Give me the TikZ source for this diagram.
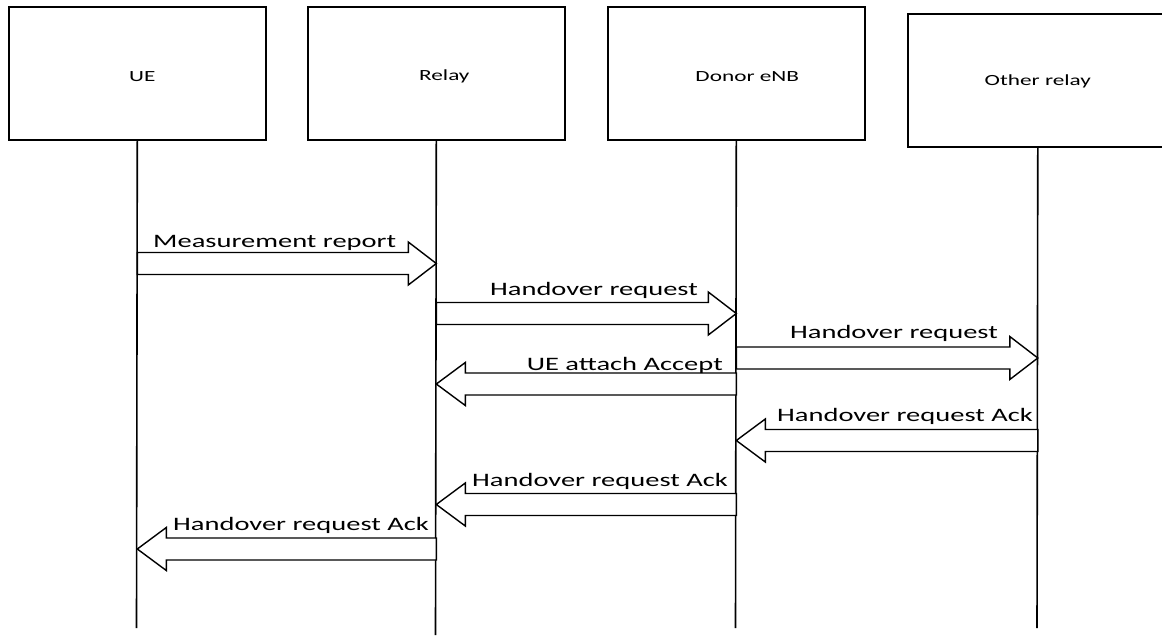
\documentclass[tikz,border=0pt]{standalone}
\usepackage{fontspec}
\setmainfont{Carlito}
\newfontfamily\widefont[FakeStretch=1.5]{Carlito}
\usetikzlibrary{calc}
\newcommand\msgR[3]{%
  \draw[msg] let \p1=(#1), \p2=(#2), \p3=(0,#3) in
    (\x1,\y3+11pt) -- (\x2-28pt,\y3+11pt) -- (\x2-28pt,\y3+21.5pt) -- (\x2,\y3)
    -- (\x2-28pt,\y3-21.5pt) -- (\x2-28pt,\y3-11pt) -- (\x1,\y3-11pt) -- cycle;}
\newcommand\msgL[3]{%
  \draw[msg] let \p1=(#1), \p2=(#2), \p3=(0,#3) in
    (\x1,\y3+11pt) -- (\x2+29pt,\y3+11pt) -- (\x2+29pt,\y3+21.5pt) -- (\x2,\y3)
    -- (\x2+29pt,\y3-21.5pt) -- (\x2+29pt,\y3-11pt) -- (\x1,\y3-11pt) -- cycle;}
\begin{document}
\begin{tikzpicture}[x=1pt,y=-1pt,
  box/.style={draw,line width=1.6pt,minimum width=257pt,minimum height=133pt,inner sep=0pt,anchor=north west},
  life/.style={line width=1.6pt},
  msg/.style={draw,line width=1.4pt,fill=white,line join=miter},
  lab/.style={font=\widefont\fontsize{19}{19}\selectfont,inner sep=0pt},
  boxlab/.style={font=\widefont\fontsize{15.5}{15.5}\selectfont,inner sep=0pt}]
\useasboundingbox (0,0) rectangle (1162,635);
\fill[white] (0,0) rectangle (1162,635);
% participants
\node[box] (ue) at (8,6) {};
\node[box] (relay) at (307,6) {};
\node[box] (donor) at (607,6) {};
\node[box,minimum width=260pt] (other) at (907,13) {};
\node[boxlab] (uet) at ($(ue.center)+(5,3)$) {UE};
\node[boxlab] (relayt) at ($(relay.center)+(8,3)$) {Relay};
\node[boxlab] (donort) at ($(donor.center)+(11,3)$) {Donor eNB};
\node[boxlab] (othert) at ($(other.center)+(0,1)$) {Other relay};
% lifelines
\coordinate (ueE) at (136.5,628);
\coordinate (relayE) at (435.5,635);
\coordinate (donorE) at (735.5,628);
\coordinate (otherE) at (1037,628);
\draw[life] (ue.south) -- (ueE);
\draw[life] (relay.south) -- (relayE);
\draw[life] (donor.south) -- (donorE);
\draw[life] (other.south) -- (otherE);
% messages
\msgR{ue.south}{relay.south}{263.5}
\msgR{relay.south}{donor.south}{313.5}
\msgR{donor.south}{other.south}{358}
\msgL{donor.south}{relay.south}{384}
\msgL{other.south}{donor.south}{440.5}
\msgL{donor.south}{relay.south}{504.5}
\msgL{relay.south}{ue.south}{549}
% labels
\node[lab,anchor=base west] (l1) at (153,247) {Measurement report};
\node[lab,anchor=base east] (l2) at (698,295) {Handover request};
\node[lab,anchor=base east] (l3) at (998,338) {Handover request};
\node[lab,anchor=base east] (l4) at (723,370) {UE attach Accept};
\node[lab,anchor=base east] (l5) at (1033,421) {Handover request Ack};
\node[lab,anchor=base east] (l6) at (728,486) {Handover request Ack};
\node[lab,anchor=base east] (l7) at (429,530) {Handover request Ack};
\end{tikzpicture}
\end{document}
